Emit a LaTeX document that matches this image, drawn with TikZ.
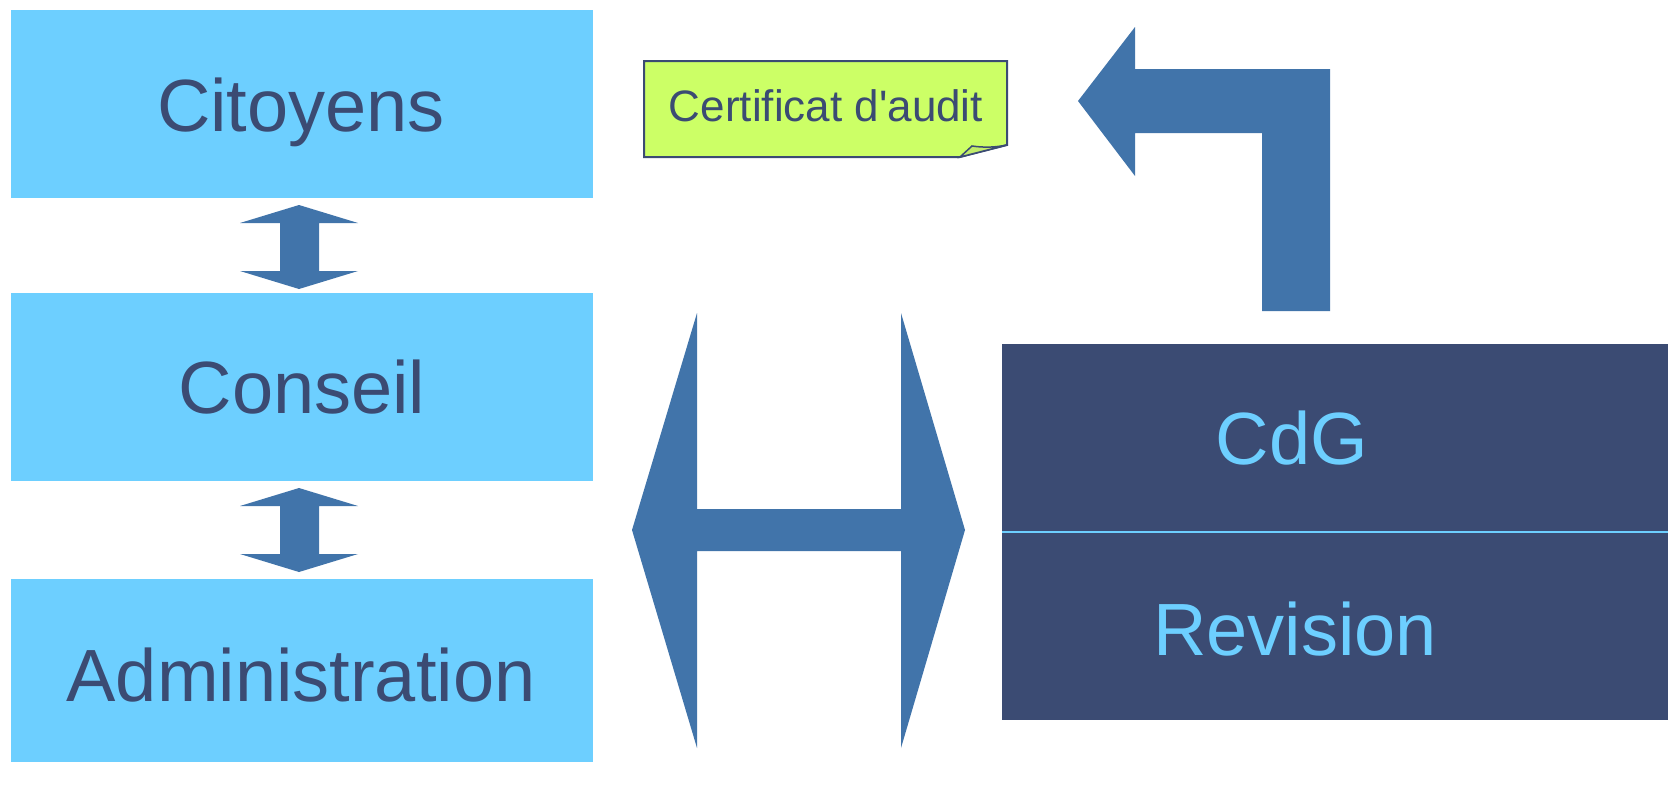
\documentclass[tikz,border=0pt]{standalone}
\usepackage{fontspec}
\setmainfont{Liberation Sans}
\newfontfamily\certfont{Liberation Sans}
\definecolor{lblue}{HTML}{6DCFFF}
\definecolor{navy}{HTML}{3B4B73}
\definecolor{arr}{HTML}{4174AA}
\definecolor{lime}{HTML}{CCFF66}
\begin{document}
\begin{tikzpicture}[x=1pt,y=-1pt,
  box/.style={draw=none, inner sep=0pt, outer sep=0pt, anchor=north west},
  bigtext/.style={font=\fontsize{74}{80}\selectfont, anchor=base, inner sep=0pt},
  blockarrow/.style={fill=arr, draw=none}]
\useasboundingbox (0,0) rectangle (1668,811);
\fill[white] (0,0) rectangle (1668,811);
% left column boxes
\node[box, fill=lblue, minimum width=582pt, minimum height=188pt] (cit) at (11,10) {};
\node[box, fill=lblue, minimum width=582pt, minimum height=188pt] (con) at (11,293) {};
\node[box, fill=lblue, minimum width=582pt, minimum height=183pt] (adm) at (11,579) {};
\node[bigtext, text=navy] (citT) at (301,131) {Citoyens};
\node[bigtext, text=navy] (conT) at (302,413) {Conseil};
\node[bigtext, text=navy] (admT) at (301,701) {Administration};
% small double arrows
\fill[blockarrow] (299,205) -- (358,223) -- (319,223) -- (319,271) -- (358,271) -- (299,289)
  -- (240,271) -- (280,271) -- (280,223) -- (240,223) -- cycle;
\fill[blockarrow] (299,488) -- (358,506) -- (319,506) -- (319,554) -- (358,554) -- (299,572)
  -- (240,554) -- (280,554) -- (280,506) -- (240,506) -- cycle;
% big horizontal double arrow
\fill[blockarrow] (632,530) -- (697,313) -- (697,509) -- (901,509) -- (901,313) -- (965,530)
  -- (901,748) -- (901,551) -- (697,551) -- (697,748) -- cycle;
% bent arrow
\fill[blockarrow] (1262,311) -- (1262,133) -- (1135,133) -- (1135,176) -- (1078,101)
  -- (1135,27) -- (1135,69) -- (1330,69) -- (1330,311) -- cycle;
% right dark box
\node[box, fill=navy, minimum width=666pt, minimum height=376pt] (ctrl) at (1002,344) {};
\draw[lblue, line width=2pt] (ctrl.west |- 0,532) -- (ctrl.east |- 0,532);
\node[bigtext, text=lblue] (cdgT) at (1292,464) {CdG};
\node[bigtext, text=lblue] (revT) at (1295,655) {Revision};
% certificate note
\draw[navy, line width=2pt, fill=lime, line join=miter] (644,61) -- (1007,61) -- (1007,145) -- (960,157) -- (644,157) -- cycle;
\draw[navy, line width=1.5pt, fill=lime!85!gray] (960,157) -- (972,146) .. controls (985,148) and (998,147) .. (1007,145) -- cycle;
\node[font=\certfont\fontsize{44}{50}\selectfont, text=navy, anchor=base, inner sep=0pt] (certT) at (826,121) {Certificat d'audit};
\end{tikzpicture}
\end{document}
